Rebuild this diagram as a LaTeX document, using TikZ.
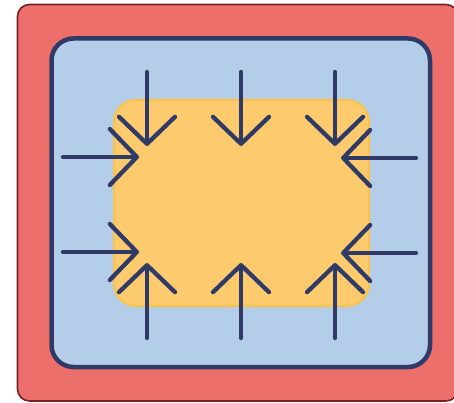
\documentclass[tikz,border=0pt]{standalone}
\usetikzlibrary{arrows.meta}
\definecolor{redbg}{HTML}{EC6F6B}
\definecolor{redline}{HTML}{7A2222}
\definecolor{bluebg}{HTML}{B4CEE9}
\definecolor{navy}{HTML}{2F3B66}
\definecolor{yel}{HTML}{FDCB6E}
\definecolor{yeledge}{HTML}{FBC24A}
\begin{document}
\begin{tikzpicture}[x=1pt,y=-1pt,
  frame/.style={fill=redbg,draw=redline,line width=1.6pt,rounded corners=12pt},
  panel/.style={fill=bluebg,draw=navy,line width=4.5pt,rounded corners=22pt},
  core/.style={fill=yel,draw=yeledge,line width=2pt,rounded corners=22pt},
  push/.style={draw=navy,line width=4.3pt,line cap=round,
    -{Straight Barb[length=27pt,width=56pt,round]}}]
\useasboundingbox (0,0) rectangle (454,403);
\fill[white] (0,0) rectangle (454,403);
\begin{scope}
\clip (0,0) rectangle (454,403);
\draw[frame] (17.5,4.5) rectangle (458,401);
\end{scope}
\draw[panel] (51.5,38.5) rectangle (430,367);
\draw[core] (114,100) rectangle (369,306);
% tails and tips
\foreach \n/\x in {l/147,m/241,r/335}{
  \coordinate (dt\n) at (\x,72);
  \coordinate (dh\n) at (\x,146);
  \coordinate (ut\n) at (\x,338);
  \coordinate (uh\n) at (\x,263);
}
\coordinate (lt1) at (63,157);  \coordinate (lh1) at (139,157);
\coordinate (lt2) at (63,252);  \coordinate (lh2) at (139,252);
\coordinate (rt1) at (416,158); \coordinate (rh1) at (341,158);
\coordinate (rt2) at (416,253); \coordinate (rh2) at (341,253);
\foreach \n in {l,m,r}{
  \draw[push] (dt\n) -- (dh\n);
  \draw[push] (ut\n) -- (uh\n);
}
\foreach \n in {1,2}{
  \draw[push] (lt\n) -- (lh\n);
  \draw[push] (rt\n) -- (rh\n);
}
\end{tikzpicture}
\end{document}
